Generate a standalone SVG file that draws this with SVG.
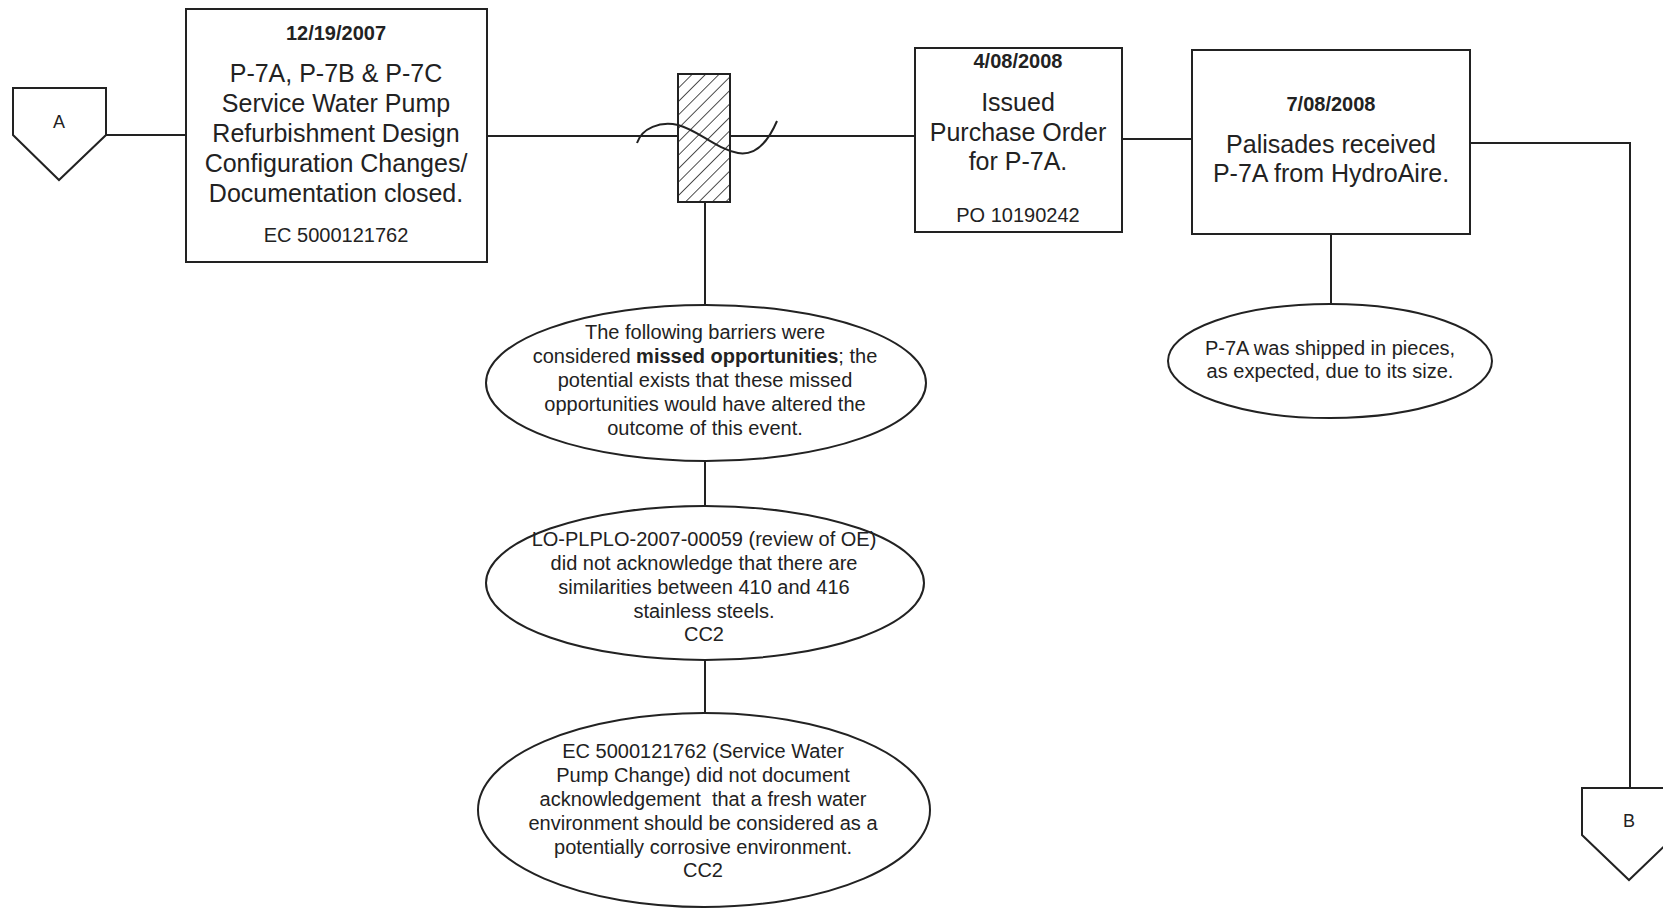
<svg xmlns="http://www.w3.org/2000/svg" width="1663" height="908" viewBox="0 0 1663 908">
  <style>
    .shape { fill: #ffffff; stroke: #222222; stroke-width: 2; }
    .wire { fill: none; stroke: #222222; stroke-width: 2; }
    text { font-family: "Liberation Sans", Arial, sans-serif; fill: #222222; text-anchor: middle; }
    .date { font-size: 20px; font-weight: bold; }
    .main { font-size: 25px; }
    .ref { font-size: 20px; }
    .note { font-size: 20px; }
    .tag { font-size: 18px; }
  </style>
  <defs>
    <pattern id="hatch" patternUnits="userSpaceOnUse" width="9.5" height="9.5" patternTransform="rotate(45)">
      <rect width="9.5" height="9.5" fill="#ffffff"/>
      <line x1="0" y1="0" x2="0" y2="9.5" stroke="#222222" stroke-width="1.6"/>
    </pattern>
  </defs>

  <rect width="1663" height="908" fill="#ffffff"/>

  <!-- connectors -->
  <g id="connectors">
    <line class="wire" x1="106" y1="135" x2="186" y2="135"/>
    <line class="wire" x1="487" y1="136" x2="915" y2="136"/>
    <line class="wire" x1="1122" y1="139" x2="1192" y2="139"/>
    <polyline class="wire" points="1470,143 1630,143 1630,788"/>
    <line class="wire" x1="705" y1="202" x2="705" y2="305"/>
    <line class="wire" x1="705" y1="461" x2="705" y2="506"/>
    <line class="wire" x1="705" y1="660" x2="705" y2="713"/>
    <line class="wire" x1="1331" y1="234" x2="1331" y2="304"/>
  </g>

  <!-- off-page connector A -->
  <g id="connector-a">
    <polygon class="shape" points="13,88 106,88 106,135 59,180 13,135"/>
    <text class="tag" x="59" y="128">A</text>
  </g>

  <!-- event 12/19/2007 -->
  <g id="event-2007-12-19">
    <rect class="shape" x="186" y="9" width="301" height="253"/>
    <text class="date" x="336" y="40">12/19/2007</text>
    <text class="main" x="336" y="82">P-7A, P-7B &amp; P-7C</text>
    <text class="main" x="336" y="112">Service Water Pump</text>
    <text class="main" x="336" y="142">Refurbishment Design</text>
    <text class="main" x="336" y="172">Configuration Changes/</text>
    <text class="main" x="336" y="202">Documentation closed.</text>
    <text class="ref" x="336" y="242">EC 5000121762</text>
  </g>

  <!-- barrier with break mark -->
  <g id="barrier">
    <rect x="678" y="74" width="52" height="128" fill="url(#hatch)" stroke="#222222" stroke-width="2"/>
    <path class="wire" d="M637,143 C642,128 660,121 678,125 C698,130 716,149 738,153 C756,156 768,142 777,121"/>
  </g>

  <!-- event 4/08/2008 -->
  <g id="event-2008-04-08">
    <rect class="shape" x="915" y="48" width="207" height="184"/>
    <text class="date" x="1018" y="68">4/08/2008</text>
    <text class="main" x="1018" y="111">Issued</text>
    <text class="main" x="1018" y="141">Purchase Order</text>
    <text class="main" x="1018" y="170">for P-7A.</text>
    <text class="ref" x="1018" y="222">PO 10190242</text>
  </g>

  <!-- event 7/08/2008 -->
  <g id="event-2008-07-08">
    <rect class="shape" x="1192" y="50" width="278" height="184"/>
    <text class="date" x="1331" y="111">7/08/2008</text>
    <text class="main" x="1331" y="153">Palisades received</text>
    <text class="main" x="1331" y="182">P-7A from HydroAire.</text>
  </g>

  <!-- shipment note -->
  <g id="note-shipment">
    <ellipse class="shape" cx="1330" cy="361" rx="162" ry="57"/>
    <text class="note" x="1330" y="355">P-7A was shipped in pieces,</text>
    <text class="note" x="1330" y="378">as expected, due to its size.</text>
  </g>

  <!-- missed opportunities summary -->
  <g id="note-missed">
    <ellipse class="shape" cx="706" cy="383" rx="220" ry="78"/>
    <text class="note" x="705" y="339">The following barriers were</text>
    <text class="note" x="705" y="363">considered <tspan font-weight="bold">missed opportunities</tspan>; the</text>
    <text class="note" x="705" y="387">potential exists that these missed</text>
    <text class="note" x="705" y="411">opportunities would have altered the</text>
    <text class="note" x="705" y="435">outcome of this event.</text>
  </g>

  <!-- OE review barrier -->
  <g id="note-oe-review">
    <ellipse class="shape" cx="705" cy="583" rx="219" ry="77"/>
    <text class="note" x="704" y="546">LO-PLPLO-2007-00059 (review of OE)</text>
    <text class="note" x="704" y="570">did not acknowledge that there are</text>
    <text class="note" x="704" y="594">similarities between 410 and 416</text>
    <text class="note" x="704" y="618">stainless steels.</text>
    <text class="note" x="704" y="641">CC2</text>
  </g>

  <!-- EC barrier -->
  <g id="note-ec">
    <ellipse class="shape" cx="704" cy="810" rx="226" ry="97"/>
    <text class="note" x="703" y="758">EC 5000121762 (Service Water</text>
    <text class="note" x="703" y="782">Pump Change) did not document</text>
    <text class="note" x="703" y="806" xml:space="preserve">acknowledgement  that a fresh water</text>
    <text class="note" x="703" y="830">environment should be considered as a</text>
    <text class="note" x="703" y="854">potentially corrosive environment.</text>
    <text class="note" x="703" y="877">CC2</text>
  </g>

  <!-- off-page connector B -->
  <g id="connector-b">
    <polygon class="shape" points="1582,788 1676,788 1676,835 1629,880 1582,835"/>
    <text class="tag" x="1629" y="827">B</text>
  </g>
</svg>
